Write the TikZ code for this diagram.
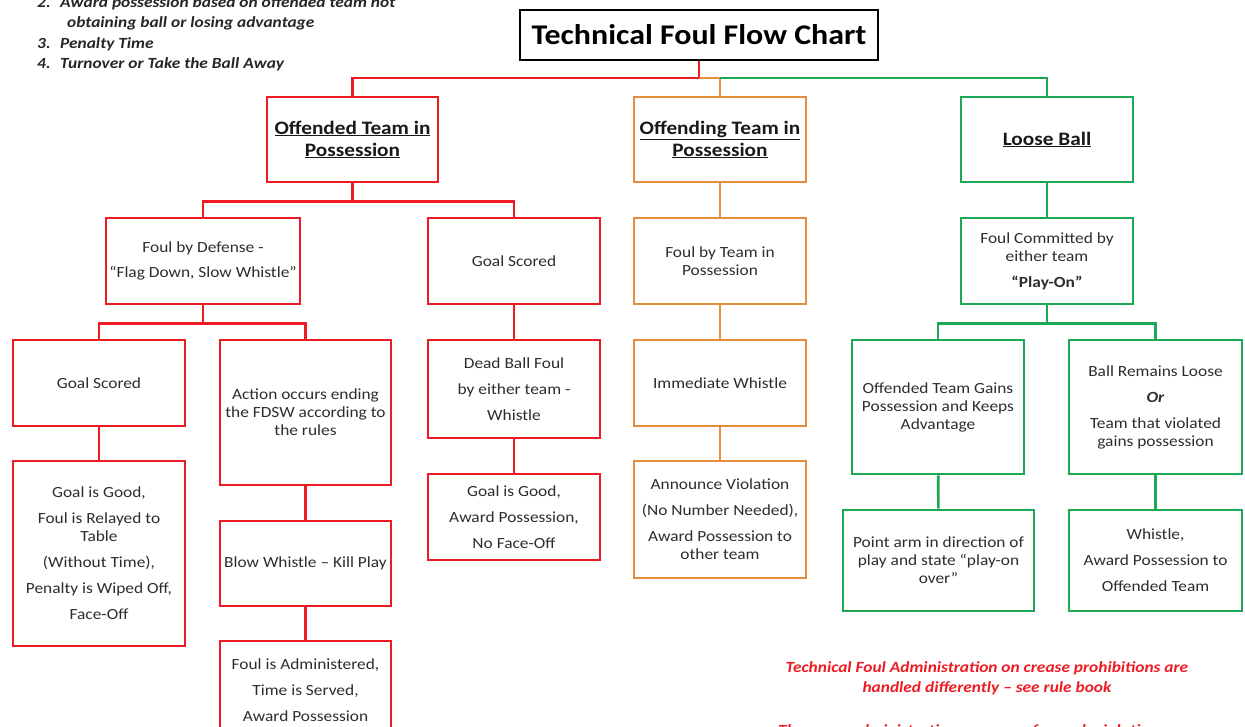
\documentclass[tikz,border=0pt]{standalone}
\usepackage{fontspec}
\setmainfont{Carlito}[FakeStretch=1.12]
\usetikzlibrary{positioning}

\definecolor{foulred}{RGB}{237,28,36}
\definecolor{foulorange}{RGB}{228,142,62}
\definecolor{foulgreen}{RGB}{28,168,84}
\definecolor{boxtext}{RGB}{45,45,45}

\tikzset{
  box/.style={draw, line width=2.6pt, align=center, text=boxtext,
    inner sep=2pt, font=\fontsize{15.5}{18}\selectfont},
  redbox/.style={box, draw=foulred},
  orangebox/.style={box, draw=foulorange},
  greenbox/.style={box, draw=foulgreen},
  head/.style={font=\bfseries\fontsize{19}{22}\selectfont, text=black!90},
  redlink/.style={draw=foulred, line width=2.6pt},
  orangelink/.style={draw=foulorange, line width=2.6pt},
  greenlink/.style={draw=foulgreen, line width=2.6pt},
  note/.style={font=\bfseries\itshape\fontsize{15.5}{18}\selectfont, text=black!85, anchor=base west, inner sep=0pt}
}

\begin{document}
\begin{tikzpicture}[x=1pt, y=-1pt]
\useasboundingbox (0,0) rectangle (1245,727);

% notes in the top left corner
\node[note] (n2) at (37,8) {2.};
\node[note] (n2a) at (60,8) {Award possession based on offended team not};
\node[note] (n2b) at (67,28) {obtaining ball or losing advantage};
\node[note] (n3) at (37,49) {3.};
\node[note] (n3a) at (60,49) {Penalty Time};
\node[note] (n4) at (37,69) {4.};
\node[note] (n4a) at (60,69) {Turnover or Take the Ball Away};

% title
\node[draw, line width=2.6pt, minimum width=358pt, minimum height=50pt,
  font=\bfseries\fontsize{28.5}{32}\selectfont] (title) at (699,35) {Technical Foul Flow Chart};

% first level
\node[redbox, head, minimum width=171pt, minimum height=85pt] (offd) at (352.5,139.5)
  {\underline{Offended Team in}\\\underline{Possession}};
\node[orangebox, head, minimum width=172pt, minimum height=85pt] (offg) at (720,139.5)
  {\underline{Offending Team in}\\\underline{Possession}};
\node[greenbox, head, minimum width=172pt, minimum height=85pt] (loose) at (1047,139.5)
  {\underline{Loose Ball}};

% second level
\node[redbox, minimum width=194pt, minimum height=86pt] (fbd) at (203,261)
  {Foul by Defense -\\[7pt]``Flag Down, Slow Whistle''};
\node[redbox, minimum width=172pt, minimum height=86pt] (gsa) at (514,261) {Goal Scored};
\node[orangebox, minimum width=172pt, minimum height=86pt] (fbt) at (720,261)
  {Foul by Team in\\Possession};
\node[greenbox, minimum width=172pt, minimum height=86pt] (fce) at (1047,261)
  {Foul Committed by\\either team\\[8pt]\textbf{``Play-On''}};

% third level
\node[redbox, minimum width=172pt, minimum height=86pt] (gsb) at (99,383) {Goal Scored};
\node[redbox, minimum width=171pt, minimum height=145pt] (act) at (305.5,412.5)
  {Action occurs ending\\the FDSW according to\\the rules};
\node[redbox, minimum width=172pt, minimum height=98pt] (dbf) at (514,389)
  {Dead Ball Foul\\[8pt]by either team -\\[8pt]Whistle};
\node[orangebox, minimum width=172pt, minimum height=86pt] (iw) at (720,383) {Immediate Whistle};
\node[greenbox, minimum width=172pt, minimum height=134pt] (otg) at (938,407)
  {Offended Team Gains\\Possession and Keeps\\Advantage};
\node[greenbox, minimum width=173pt, minimum height=134pt] (brl) at (1155.5,407)
  {Ball Remains Loose\\[8pt]\textbf{\textit{Or}}\\[8pt]Team that violated\\gains possession};

% fourth level
\node[redbox, minimum width=172pt, minimum height=185pt] (gig) at (99,553.5)
  {Goal is Good,\\[8pt]Foul is Relayed to\\Table\\[8pt](Without Time),\\[8pt]Penalty is Wiped Off,\\[8pt]Face-Off};
\node[redbox, minimum width=171pt, minimum height=85pt] (bw) at (305.5,563.5)
  {Blow Whistle -- Kill Play};
\node[redbox, minimum width=172pt, minimum height=86pt] (gigb) at (514,517)
  {Goal is Good,\\[8pt]Award Possession,\\[8pt]No Face-Off};
\node[orangebox, minimum width=172pt, minimum height=117pt] (av) at (720,519.5)
  {Announce Violation\\[8pt](No Number Needed),\\[8pt]Award Possession to\\other team};
\node[greenbox, minimum width=191pt, minimum height=101pt] (pa) at (938.5,560.5)
  {Point arm in direction of\\play and state ``play-on\\over''};
\node[greenbox, minimum width=173pt, minimum height=101pt] (wh) at (1155.5,560.5)
  {Whistle,\\[8pt]Award Possession to\\[8pt]Offended Team};

% fifth level
\node[redbox, minimum width=171pt, minimum height=98pt] (fia) at (305.5,690)
  {Foul is Administered,\\[8pt]Time is Served,\\[8pt]Award Possession};

% red note
\node[font=\bfseries\itshape\fontsize{15.5}{20}\selectfont, text=foulred, align=center] (crease) at (987,678)
  {Technical Foul Administration on crease prohibitions are\\handled differently -- see rule book};
\node[font=\bfseries\itshape\fontsize{15.5}{20}\selectfont, text=foulred, anchor=base west, inner sep=0pt] (admin) at (778,735)
  {There are administrative processes for each violation};

% connectors
\coordinate (split) at (699,78);
\draw[redlink] (title.south) -- (split) -| (offd.north);
\draw[orangelink] (split) -| (offg.north);
\draw[greenlink] (offg.north |- split) -| (loose.north);

\draw[redlink] (offd.south) -- ++(0,18) -| (fbd.north);
\draw[redlink] (offd.south) -- ++(0,18) -| (gsa.north);
\draw[redlink] (fbd.south) -- ++(0,18) -| (gsb.north);
\draw[redlink] (fbd.south) -- ++(0,18) -| (act.north);
\draw[redlink] (gsb) -- (gig);
\draw[redlink] (act) -- (bw);
\draw[redlink] (bw) -- (fia);
\draw[redlink] (gsa) -- (dbf);
\draw[redlink] (dbf) -- (gigb);

\draw[orangelink] (offg) -- (fbt);
\draw[orangelink] (fbt) -- (iw);
\draw[orangelink] (iw) -- (av);

\draw[greenlink] (loose) -- (fce);
\draw[greenlink] (fce.south) -- ++(0,18) -| (otg.north);
\draw[greenlink] (fce.south) -- ++(0,18) -| (brl.north);
\draw[greenlink] (otg) -- (pa);
\draw[greenlink] (brl) -- (wh);
\end{tikzpicture}
\end{document}
